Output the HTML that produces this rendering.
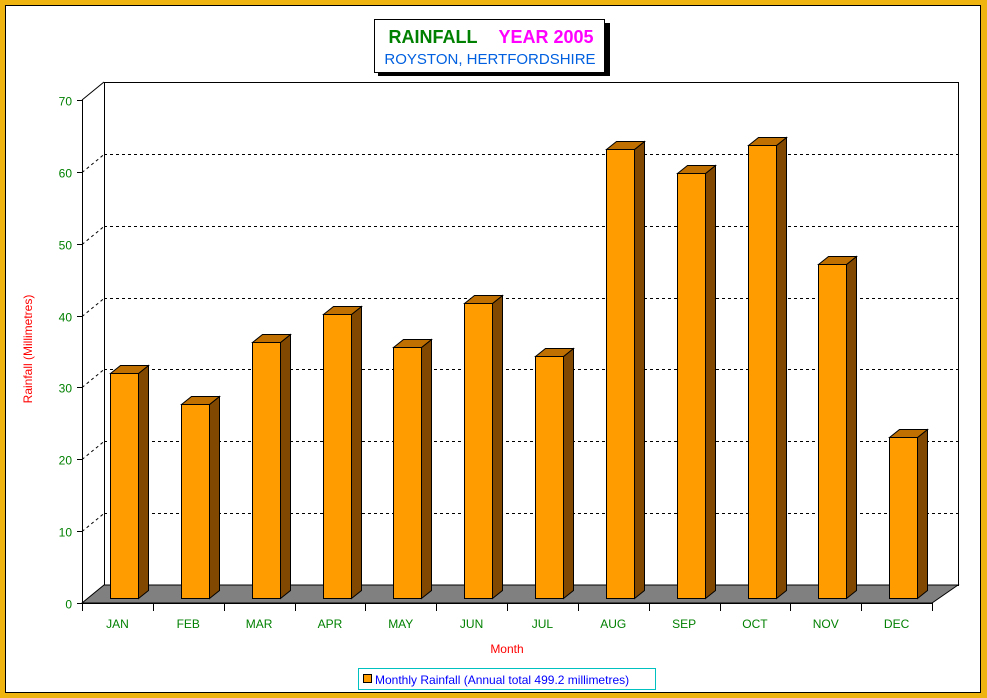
<!DOCTYPE html>
<html><head><meta charset="utf-8"><style>
html,body{margin:0;padding:0;background:#f0b410;}
svg{display:block;font-family:"Liberation Sans",Arial,sans-serif;}
</style></head><body>
<svg width="987" height="698">
<rect x="0" y="0" width="987" height="698" fill="#f0b410"/>
<rect x="5.5" y="5.5" width="975" height="687" fill="#fff" stroke="#000"/>
<g>
<rect x="378" y="23" width="232" height="53" fill="#000"/>
<rect x="374.5" y="19.5" width="230" height="53" fill="#fff" stroke="#000"/>
<text x="433" y="43" font-size="18" font-weight="bold" fill="#008000" text-anchor="middle">RAINFALL</text>
<text x="546" y="43" font-size="18" font-weight="bold" fill="#ff00ff" text-anchor="middle">YEAR 2005</text>
<text x="490" y="64" font-size="15" fill="#0060e0" text-anchor="middle">ROYSTON, HERTFORDSHIRE</text>
</g>
<g id="plot"></g>
<text x="32" y="349" font-size="12" fill="#ff0000" text-anchor="middle" transform="rotate(-90 32 349)">Rainfall  (Millimetres)</text>
<text x="507" y="653" font-size="12" fill="#ff0000" text-anchor="middle">Month</text>
<g>
<rect x="358.5" y="668.5" width="297" height="21" fill="#fff" stroke="#00c0c0"/>
<rect x="363.5" y="674.5" width="8" height="8" fill="#ff9c00" stroke="#000"/>
<text x="375" y="684" font-size="12" fill="#0000ff">Monthly Rainfall (Annual total 499.2 millimetres)</text>
</g>
</svg>
<script>
const months=["JAN","FEB","MAR","APR","MAY","JUN","JUL","AUG","SEP","OCT","NOV","DEC"];
const rainfall=[31.4,27.1,35.7,39.6,35.0,41.1,33.8,62.6,59.2,63.1,46.5,22.5];
const yTicks=[0,10,20,30,40,50,60,70];
const NS="http://www.w3.org/2000/svg";
const g=document.getElementById('plot');
const X0=82,X1=932,Y0=603,K=503/70,DX=22,DY=18;
const y=v=>Y0-v*K;
const cw=(X1-X0)/months.length;
function mk(t,a,parent){const e=document.createElementNS(NS,t);for(const k in a)e.setAttribute(k,a[k]);(parent||g).appendChild(e);return e;}
let e;
e=mk('rect',{x:X0+DX+0.5,y:y(70)-DY+0.5,width:X1-X0+4,height:Y0-y(70),fill:'#fff',stroke:'#000'});


e=mk('polygon',{points:`${X0},${Y0} ${X1},${Y0} ${X1+DX+4},${Y0-DY} ${X0+DX},${Y0-DY}`,fill:'#808080',stroke:'#000'});


yTicks.forEach(v=>{
 const yy=Math.round(y(v))+0.5;
 if(v>0&&v<70){
  e=mk('line',{x1:X0+DX,x2:X1+DX+4,y1:yy-DY,y2:yy-DY,stroke:'#000','stroke-dasharray':'3,3'});
  
  
  mk('line',{x1:X0,y1:yy,x2:X0+DX,y2:yy-DY,stroke:'#000','stroke-dasharray':'3,3'});
 }
 mk('line',{x1:X0-5,x2:X0,y1:yy,y2:yy,stroke:'#000'});
 e=mk('text',{x:X0-10,y:yy+5,'font-size':12,fill:'#008000','text-anchor':'end'});
 e.textContent=v;
 
 
});
mk('line',{x1:X0+0.5,y1:y(70),x2:X0+0.5,y2:Y0,stroke:'#000'});
mk('line',{x1:X0,y1:y(70),x2:X0+DX,y2:y(70)-DY,stroke:'#000'});
mk('line',{x1:X0,y1:Y0+0.5,x2:X1,y2:Y0+0.5,stroke:'#000'});
months.forEach((m,i)=>{
 const cx=X0+i*cw;
 mk('line',{x1:Math.round(cx)+0.5,x2:Math.round(cx)+0.5,y1:Y0,y2:Y0+8,stroke:'#000'});
 e=mk('text',{x:cx+cw/2,y:Y0+25,'font-size':12,fill:'#008000','text-anchor':'middle'});
 e.textContent=m;
 
 
 const bx=Math.round(cx+28)+0.5,bw=28,by0=Y0-5+0.5,top=Math.round(by0-rainfall[i]*K)+0.5,d=10,u=8;
 const bg=mk('g',{});
 
 
 mk('polygon',{points:`${bx+bw},${top} ${bx+bw+d},${top-u} ${bx+bw+d},${by0-u} ${bx+bw},${by0}`,fill:'#804800',stroke:'#000'},bg);
 mk('polygon',{points:`${bx},${top} ${bx+d},${top-u} ${bx+bw+d},${top-u} ${bx+bw},${top}`,fill:'#c07000',stroke:'#000'},bg);
 mk('rect',{x:bx,y:top,width:bw,height:by0-top,fill:'#ff9c00',stroke:'#000'},bg);
});
mk('line',{x1:X1+0.5,x2:X1+0.5,y1:Y0,y2:Y0+8,stroke:'#000'});
</script>
</body></html>
